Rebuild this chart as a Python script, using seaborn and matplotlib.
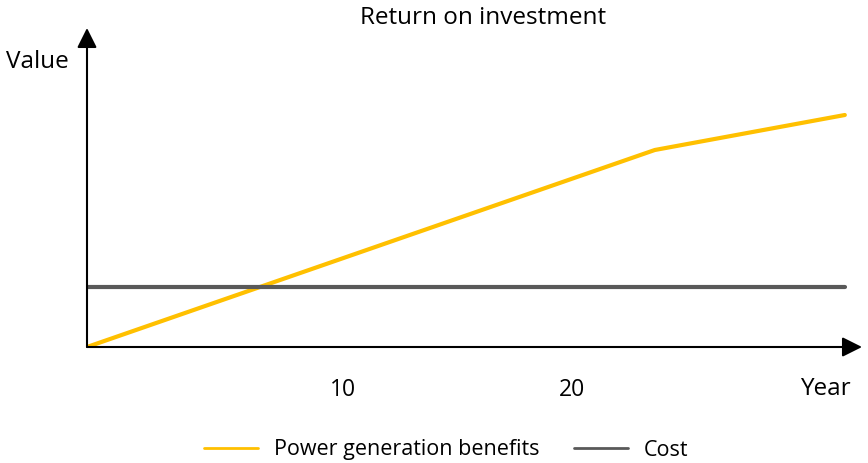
import matplotlib
matplotlib.use("Agg")
import matplotlib.pyplot as plt
import seaborn as sns
import pandas as pd
from matplotlib.lines import Line2D

# Data (arbitrary value units, years)
years_benefit = [0, 24.8, 33.1]
benefit_values = [0, 19.7, 23.2]
years_cost = [0, 33.1]
cost_values = [6.0, 6.0]
tick_positions = [11.2, 21.2]
tick_labels = ["10", "20"]

sns.set_theme(style="white")
plt.rcParams["font.family"] = ["Open Sans", "DejaVu Sans"]
plt.rcParams["text.color"] = "black"

W, H = 868, 463
fig = plt.figure(figsize=(W / 100, H / 100), dpi=100)
x0, y0, x1, y1 = 87, 347, 862, 28
ax = fig.add_axes([x0 / W, (H - y0) / H, (x1 - x0) / W, (y0 - y1) / H])

df = pd.concat([
    pd.DataFrame({"Year": years_benefit, "Value": benefit_values, "Series": "Power generation benefits"}),
    pd.DataFrame({"Year": years_cost, "Value": cost_values, "Series": "Cost"}),
])
sns.lineplot(data=df, x="Year", y="Value", hue="Series",
             palette={"Power generation benefits": "#FFC000", "Cost": "#595959"},
             linewidth=3, ax=ax, legend=False, zorder=3)

ax.set_xlim(0, 33.85)
ax.set_ylim(0, 31.9)
for s in ax.spines.values():
    s.set_visible(False)
ax.set_xticks(tick_positions)
ax.set_xticklabels(tick_labels, fontsize=16.5)
ax.set_yticks([])
ax.tick_params(axis="x", length=0, pad=22, colors="black")
ax.set_xlabel("")
ax.set_ylabel("")

arrow = dict(arrowstyle="-|>,head_length=1.0,head_width=0.5", color="black",
             lw=1.5, mutation_scale=12, shrinkA=0, shrinkB=0)
ax.annotate("", xy=(1, 0), xytext=(0, 0), xycoords="axes fraction", arrowprops=arrow, zorder=4)
ax.annotate("", xy=(0, 1), xytext=(0, 0), xycoords="axes fraction", arrowprops=arrow, zorder=4)

fig.text(483 / W, 1 - 18 / H, "Return on investment", ha="center", va="center", fontsize=17.5)
fig.text(6 / W, 1 - 62 / H, "Value", ha="left", va="center", fontsize=17.5)
fig.text(825 / W, 1 - 389 / H, "Year", ha="center", va="center", fontsize=17.5)

handles = [Line2D([], [], color="#FFC000", lw=2), Line2D([], [], color="#595959", lw=2)]
fig.legend(handles, ["Power generation benefits", "Cost"], loc="center",
           bbox_to_anchor=(446 / W, 1 - 450 / H), ncol=2, frameon=False,
           fontsize=15.5, handlelength=2.5, columnspacing=1.6, handletextpad=0.75)

fig.savefig("out.png", dpi=100)
